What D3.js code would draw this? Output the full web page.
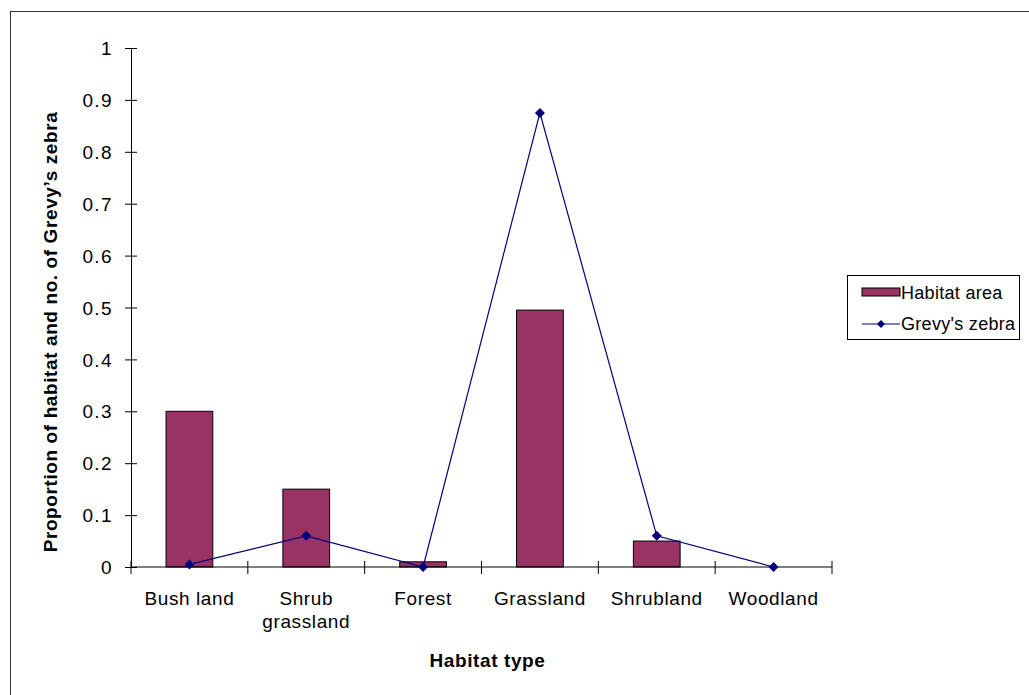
<!DOCTYPE html>
<html>
<head>
<meta charset="utf-8">
<script src="https://cdn.jsdelivr.net/npm/d3@7"></script>
<style>
  html, body { margin: 0; padding: 0; background: #fff; }
  svg text { font-family: Arial, "Liberation Sans", sans-serif; fill: #000; }
</style>
</head>
<body>
<svg id="chart" width="1029" height="695"></svg>
<script>
const categories = ["Bush land", "Shrub\ngrassland", "Forest", "Grassland", "Shrubland", "Woodland"];
const habitatArea = [0.30, 0.15, 0.01, 0.495, 0.05, 0];
const grevysZebra = [0.005, 0.06, 0, 0.875, 0.06, 0];
const yTickValues = [0, 0.1, 0.2, 0.3, 0.4, 0.5, 0.6, 0.7, 0.8, 0.9, 1];
const yTickLabels = ["0", "0.1", "0.2", "0.3", "0.4", "0.5", "0.6", "0.7", "0.8", "0.9", "1"];
const seriesNames = ["Habitat area", "Grevy's zebra"];
const xTitle = "Habitat type";
const yTitle = "Proportion of habitat and no. of Grevy\u2019s zebra";

const svg = d3.select("#chart");
const pLeft = 131, pRight = 832, pTop = 48, pBottom = 567;

// outer border
svg.append("rect").attr("x", 10.5).attr("y", 11.5).attr("width", 1040).attr("height", 700)
  .attr("fill", "none").attr("stroke", "#333").attr("stroke-width", 1);

const x = d3.scaleBand().domain(categories).range([pLeft, pRight]).paddingInner(0.6).paddingOuter(0.3);
const y = d3.scaleLinear().domain([0, 1]).range([pBottom, pTop]);

// bars
svg.append("g").selectAll("rect").data(categories).join("rect")
  .attr("x", d => x(d))
  .attr("y", (d, i) => y(habitatArea[i]))
  .attr("width", x.bandwidth())
  .attr("height", (d, i) => y(0) - y(habitatArea[i]))
  .attr("fill", "#993366").attr("stroke", "#000").attr("stroke-width", 1);

// y axis
const yAxis = d3.axisLeft(y).tickValues(yTickValues)
  .tickFormat((d, i) => yTickLabels[i]).tickSize(6).tickPadding(12);
const gy = svg.append("g").attr("transform", `translate(${pLeft},0)`).call(yAxis);
gy.select(".domain").attr("stroke", "#000");
gy.selectAll(".tick line").attr("x2", 6).attr("x1", -6).attr("stroke", "#000");
gy.selectAll(".tick text").style("font-size", "19px").style("letter-spacing", "1.4px")
  .style("font-family", "Arial, 'Liberation Sans', sans-serif").attr("dy", "0.35em");

// x axis line and boundary ticks
svg.append("line").attr("x1", pLeft).attr("x2", pRight).attr("y1", pBottom).attr("y2", pBottom).attr("stroke", "#000");
const step = x.step();
const boundaries = d3.range(categories.length + 1).map(i => pLeft + i * step);
svg.append("g").selectAll("line").data(boundaries).join("line")
  .attr("x1", d => d).attr("x2", d => d).attr("y1", pBottom - 6).attr("y2", pBottom + 7)
  .attr("stroke", "#000");

// x category labels
const xl = svg.append("g").selectAll("text").data(categories).join("text")
  .attr("text-anchor", "middle").style("font-size", "19px").style("letter-spacing", "0.6px")
  .attr("transform", d => `translate(${x(d) + x.bandwidth() / 2},605)`);
xl.selectAll("tspan").data(d => d.split("\n")).join("tspan")
  .attr("x", 0).attr("dy", (d, i) => i === 0 ? 0 : 23).text(d => d);

// line series
const cx = (d, i) => x(categories[i]) + x.bandwidth() / 2;
const line = d3.line().x((d, i) => cx(d, i)).y(d => y(d));
svg.append("path").datum(grevysZebra).attr("d", line)
  .attr("fill", "none").attr("stroke", "#000080").attr("stroke-width", 1.2);
svg.append("g").selectAll("path").data(grevysZebra).join("path")
  .attr("d", "M0,-5L5,0L0,5L-5,0Z")
  .attr("transform", (d, i) => `translate(${cx(d, i)},${y(d)})`)
  .attr("fill", "#000080");

// axis titles
svg.append("text").attr("x", (pLeft + pRight) / 2 + 6).attr("y", 667)
  .attr("text-anchor", "middle").style("font-size", "19px").style("letter-spacing", "0.6px")
  .style("font-weight", "bold").text(xTitle);
svg.append("text").attr("transform", "translate(57,332) rotate(-90)")
  .attr("text-anchor", "middle").style("font-size", "19px").style("letter-spacing", "0.6px")
  .style("font-weight", "bold").text(yTitle);

// legend
const lg = svg.append("g");
lg.append("rect").attr("x", 847.5).attr("y", 275.5).attr("width", 172).attr("height", 64)
  .attr("fill", "#fff").attr("stroke", "#000").attr("stroke-width", 1);
lg.append("rect").attr("x", 862).attr("y", 288).attr("width", 38).attr("height", 8)
  .attr("fill", "#993366").attr("stroke", "#000").attr("stroke-width", 1);
lg.append("text").attr("x", 901).attr("y", 299).style("font-size", "18px").style("letter-spacing", "0.3px").text(seriesNames[0]);
lg.append("line").attr("x1", 862).attr("x2", 900).attr("y1", 324).attr("y2", 324)
  .attr("stroke", "#000080").attr("stroke-width", 1.2);
lg.append("path").attr("d", "M0,-4L4,0L0,4L-4,0Z").attr("transform", "translate(881,324)").attr("fill", "#000080");
lg.append("text").attr("x", 901).attr("y", 330).style("font-size", "18px").style("letter-spacing", "0.3px").text(seriesNames[1]);
</script>
</body>
</html>
